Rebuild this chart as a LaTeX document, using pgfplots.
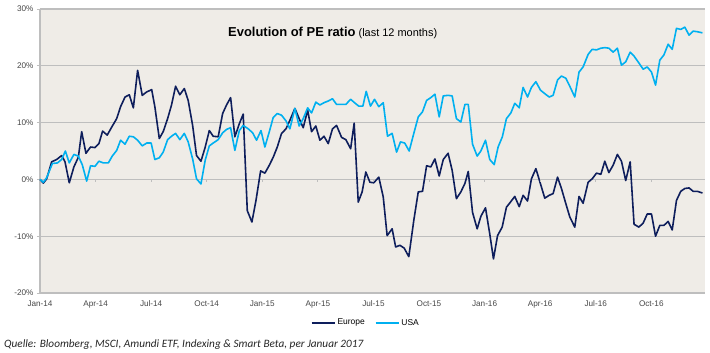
\documentclass[border=0pt]{standalone}
\usepackage{pgfplots}
\pgfplotsset{compat=1.18}
\usepackage{fontspec}
\setmainfont{Liberation Sans}
\newfontfamily\srcfont{Carlito}
\definecolor{bgc}{RGB}{239,236,231}
\definecolor{gridc}{RGB}{190,190,190}
\definecolor{eur}{RGB}{14,30,92}
\definecolor{usa}{RGB}{0,176,240}
\definecolor{tickc}{RGB}{70,70,70}
\pgfplotstableread{
m v
0 0
0.18 -0.65
0.36 0.1
0.63 3.1
0.9 3.5
1.17 4.2
1.35 3.1
1.58 -0.6
1.83 2.2
2.07 3.9
2.25 8.4
2.48 4.6
2.73 5.7
2.97 5.6
3.18 6.3
3.38 8.5
3.63 7.8
3.87 9.2
4.14 10.7
4.35 12.8
4.59 14.5
4.82 14.9
5.04 12.6
5.27 19.2
5.52 14.8
5.76 15.4
6.03 15.8
6.2 12.8
6.44 7.2
6.65 8.4
6.89 10.7
7.1 13.1
7.32 16.4
7.55 14.9
7.79 16.0
8.0 13.9
8.24 9.5
8.45 4.2
8.69 3.2
8.92 5.7
9.14 8.6
9.35 7.6
9.62 7.5
9.86 11.6
10.07 13.1
10.29 14.4
10.52 7.5
10.76 9.8
10.97 11.5
11.19 -5.5
11.44 -7.5
11.66 -3.7
11.91 1.5
12.14 1.1
12.38 2.5
12.59 3.9
12.81 5.7
13.04 8.1
13.28 8.9
13.49 10.4
13.76 12.5
13.99 10.7
14.21 9.1
14.45 12.2
14.66 8.4
14.89 9.4
15.11 6.9
15.33 7.6
15.56 6.3
15.79 8.9
16.01 9.5
16.28 7.4
16.51 7.0
16.77 5.4
16.96 9.9
17.18 -4.0
17.39 -2.2
17.59 1.3
17.81 -0.5
18.02 -0.6
18.29 0.4
18.53 -3.1
18.74 -9.9
19.01 -8.7
19.2 -11.9
19.43 -11.6
19.66 -12.1
19.91 -13.6
20.18 -7.2
20.42 -2.2
20.65 -2.1
20.87 2.4
21.1 2.2
21.32 3.6
21.55 0.6
21.77 3.5
22.03 4.6
22.25 1.6
22.48 -3.4
22.72 -2.2
22.94 -0.7
23.12 1.4
23.35 -5.8
23.6 -8.7
23.8 -6.5
24.05 -5.0
24.28 -9.6
24.48 -14.0
24.7 -9.9
24.95 -8.4
25.18 -4.9
25.42 -3.9
25.63 -3.0
25.87 -4.8
26.08 -2.8
26.32 -3.8
26.53 0.1
26.77 1.9
27.02 -0.8
27.25 -3.3
27.49 -2.8
27.7 -2.5
27.94 0.4
28.15 -1.6
28.39 -4.3
28.6 -6.6
28.87 -8.4
29.1 -3.0
29.32 -4.2
29.59 -0.5
29.81 0.1
30.04 1.1
30.28 0.9
30.49 3.2
30.71 1.2
30.94 2.5
31.17 4.4
31.39 3.2
31.62 -0.2
31.86 3.1
32.07 -7.9
32.33 -8.4
32.56 -7.7
32.78 -6.1
33.01 -6.1
33.23 -10.0
33.46 -8.1
33.68 -8.1
33.91 -7.4
34.13 -8.9
34.36 -3.7
34.59 -2.1
34.81 -1.6
35.04 -1.5
35.26 -2.1
35.49 -2.1
35.76 -2.4
}\europe
\pgfplotstableread{
m v
0 0
0.18 -0.5
0.36 0.3
0.67 2.8
0.94 2.9
1.17 3.5
1.37 5.0
1.58 2.9
1.83 4.4
2.07 4.1
2.28 2.6
2.52 -0.3
2.73 2.4
2.97 2.3
3.18 3.2
3.42 2.9
3.69 2.9
3.9 4.1
4.14 5.1
4.35 6.9
4.59 6.2
4.82 7.6
5.04 7.5
5.27 6.9
5.52 5.9
5.76 6.4
6.0 6.4
6.2 3.5
6.44 3.8
6.65 4.8
6.89 7.0
7.1 7.6
7.32 8.1
7.55 7.0
7.79 8.1
8.0 6.6
8.24 3.6
8.45 0.1
8.69 -0.8
8.92 3.4
9.14 5.9
9.35 6.4
9.62 7.0
9.86 8.2
10.07 8.8
10.29 9.1
10.52 5.1
10.76 8.6
10.97 9.5
11.24 8.9
11.48 8.2
11.69 6.9
11.93 8.6
12.14 5.7
12.38 8.4
12.59 10.9
12.81 11.6
13.04 11.3
13.28 10.3
13.49 8.9
13.76 12.5
13.99 9.4
14.21 10.7
14.45 12.6
14.66 11.7
14.89 13.6
15.11 13.1
15.33 13.5
15.56 13.8
15.79 14.2
16.01 13.2
16.28 13.2
16.51 13.2
16.77 14.1
16.98 13.5
17.21 12.9
17.43 12.9
17.61 15.5
17.84 12.9
18.06 14.1
18.29 12.8
18.53 13.5
18.76 7.6
19.01 8.1
19.25 4.8
19.46 6.6
19.69 6.4
19.93 5.0
20.18 8.1
20.42 11.0
20.65 11.9
20.87 13.9
21.1 14.4
21.32 15.0
21.55 11.0
21.77 14.7
22.03 14.8
22.25 14.7
22.48 10.7
22.72 10.1
22.94 13.2
23.12 13.2
23.35 6.2
23.6 4.1
23.8 5.0
24.05 6.9
24.28 3.5
24.52 2.6
24.73 5.7
24.96 7.5
25.18 10.7
25.42 11.7
25.63 13.4
25.87 12.6
26.08 16.2
26.32 14.5
26.53 16.2
26.77 17.2
27.02 15.7
27.25 15.1
27.49 14.5
27.7 14.8
27.94 17.5
28.15 18.2
28.39 17.8
28.6 16.4
28.87 14.5
29.1 18.9
29.32 19.8
29.59 22.0
29.81 22.9
30.04 22.8
30.28 23.1
30.49 23.2
30.71 23.1
30.94 22.4
31.17 23.1
31.39 20.1
31.62 20.7
31.86 22.4
32.07 21.7
32.33 20.5
32.56 19.4
32.78 19.8
33.01 18.9
33.23 16.6
33.46 21.0
33.68 21.9
33.91 23.8
34.13 22.9
34.36 26.6
34.59 26.4
34.81 26.8
35.04 25.4
35.26 26.1
35.49 26.0
35.76 25.8
}\usa
\begin{document}
\begin{tikzpicture}
\useasboundingbox (0,0) rectangle (710bp,353bp);
\begin{axis}[
  at={(40bp,60bp)}, anchor=south west,
  scale only axis, width=665bp, height=284bp,
  xmin=0, xmax=35.9, ymin=-20, ymax=30,
  axis background/.style={fill=bgc},
  axis lines*=left,
  axis line style={gridc, line width=1.2bp},
  ytick={-20,-10,0,10,20,30},
  yticklabels={-20\%,-10\%,0\%,10\%,20\%,30\%},
  xtick={0,3,...,33},
  xticklabels={Jan-14,Apr-14,Jul-14,Oct-14,Jan-15,Apr-15,Jul-15,Oct-15,Jan-16,Apr-16,Jul-16,Oct-16},
  ymajorgrids, grid style={gridc, line width=1.2bp},
  tick label style={font=\fontsize{8.2}{9}\selectfont, text=tickc},
  ytick style={gridc, line width=0.8bp}, tick align=outside, major tick length=3bp,
  xtick style={draw=none},
  xticklabel style={yshift=-1.5bp},
  legend style={at={(0.49,-0.105)}, anchor=center, draw=none, fill=none,
    font=\fontsize{8.5}{9}\selectfont, legend columns=2,
    /tikz/every even column/.append style={column sep=8bp}},
  legend image code/.code={\draw[#1] (0bp,0bp) -- (23bp,0bp);},
  clip=false,
]
\addplot[eur, line width=1.6bp, line join=round] table[x=m,y=v] {\europe};
\addlegendentry{Europe}
\addplot[usa, line width=1.6bp, line join=round] table[x=m,y=v] {\usa};
\addlegendentry{USA}
\pgfplotsinvokeforeach{3,6,9,12,15,18,21,24,27,30,33}{\draw[gridc, line width=0.8bp] (axis cs:#1,0) -- (axis cs:#1,-0.45);}
\end{axis}
\node[anchor=base west, inner sep=0] at (228bp,316bp) {\fontsize{13}{15}\selectfont\bfseries Evolution of PE ratio\fontsize{11}{13}\selectfont\mdseries\ (last 12 months)};
\node[anchor=base west, inner sep=0, text=black!85] at (4bp,6bp) {\srcfont\itshape\fontsize{11.3}{13}\selectfont Quelle: Bloomberg, MSCI, Amundi ETF, Indexing \& Smart Beta, per Januar 2017};
\end{tikzpicture}
\end{document}
